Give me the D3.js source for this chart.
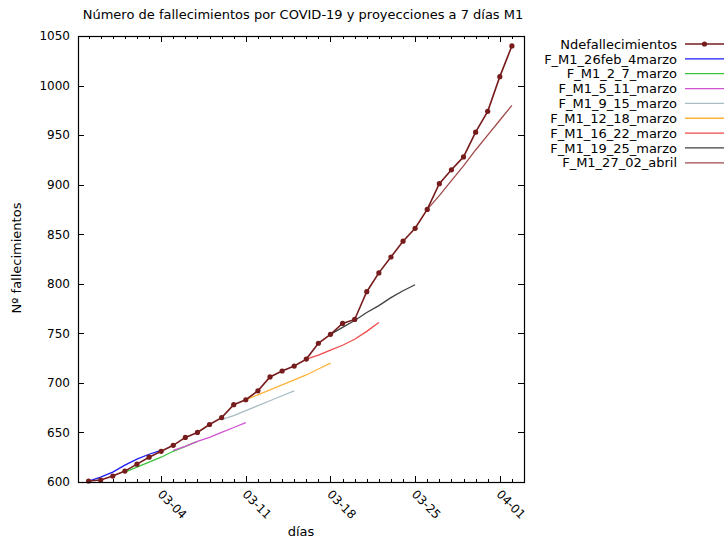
<!DOCTYPE html>
<html>
<head>
<meta charset="utf-8">
<script src="https://cdn.jsdelivr.net/npm/d3@7"></script>
<style>
  body { margin: 0; background: #fff; }
  svg { display: block; }
  text { font-family: "DejaVu Sans", Verdana, sans-serif; font-size: 12px; fill: #000; }
  text.lbl { font-size: 13px; }
</style>
</head>
<body>
<div id="chart"></div>
<script>
// fechas (mes-día, 2020) y nº de fallecimientos acumulados
var fechas = ["02-27", "02-28", "02-29", "03-01", "03-02", "03-03", "03-04", "03-05", "03-06",
    "03-07", "03-08", "03-09", "03-10", "03-11", "03-12", "03-13", "03-14", "03-15", "03-16",
    "03-17", "03-18", "03-19", "03-20", "03-21", "03-22", "03-23", "03-24", "03-25", "03-26",
    "03-27", "03-28", "03-29", "03-30", "03-31", "04-01", "04-02"];
var fallecimientos = [601, 602, 606, 611, 618, 625, 631, 637, 645, 650, 658, 665, 678, 683,
    692, 706, 712, 717, 724, 740, 749, 760, 764, 792, 811, 827, 843, 856, 875, 901, 915, 928,
    953, 974, 1009, 1040];

// proyecciones a 7 días
var proyNombres = ["F_M1_26feb_4marzo", "F_M1_2_7_marzo", "F_M1_5_11_marzo", "F_M1_9_15_marzo",
    "F_M1_12_18_marzo", "F_M1_16_22_marzo", "F_M1_19_25_marzo", "F_M1_27_02_abril"];
var proyInicio = ["02-27", "03-01", "03-05", "03-09", "03-11", "03-16", "03-18", "03-26"];
var proyValores = [
    [601, 605, 610, 617, 623, 628, 632],
    [610, 615, 620, 625, 631, 636, 641],
    [632, 636, 641, 645, 650, 655, 660],
    [663, 667, 672, 677, 682, 687, 692],
    [683, 688, 693, 698, 703, 708, 714, 720],
    [724, 728, 733, 738, 744, 752, 761],
    [749, 756, 763, 771, 778, 786, 793, 799],
    [875, 889, 904, 919, 935, 950, 965, 980]
];
var proyColores = ["#1c1cf4", "#3cc43c", "#d054d0", "#a9bcc4", "#ffb338", "#f04a4a", "#404040", "#a04a4a"];
var colorDatos = "#761c1c";

var yTicks = [600, 650, 700, 750, 800, 850, 900, 950, 1000, 1050];

var width = 724, height = 538;
var plotLeft = 78, plotRight = 524, plotTop = 36, plotBottom = 482;

var parseFecha = function (s) { return d3.utcParse("%Y-%m-%d")("2020-" + s); };

var svg = d3.select("#chart").append("svg")
    .attr("width", width)
    .attr("height", height);

var x = d3.scaleUtc()
    .domain([d3.utcHour.offset(parseFecha("02-26"), 3.5), parseFecha("04-03")])
    .range([plotLeft, plotRight]);

var y = d3.scaleLinear()
    .domain([600, 1050])
    .range([plotBottom, plotTop]);

var dayTicks = d3.utcDay.range(parseFecha("02-27"), parseFecha("04-04"));
var weekTicks = ["03-04", "03-11", "03-18", "03-25", "04-01"].map(parseFecha);

// ejes (ticks hacia dentro, espejo arriba/derecha)
var axisG = svg.append("g");

function drawXTicks(yPos, dir) {
    axisG.selectAll(null)
        .data(dayTicks)
        .enter().append("line")
        .attr("x1", function (d) { return Math.round(x(d)) + 0.5; })
        .attr("x2", function (d) { return Math.round(x(d)) + 0.5; })
        .attr("y1", yPos)
        .attr("y2", yPos + dir * 3)
        .attr("stroke", "#000");
    axisG.selectAll(null)
        .data(weekTicks)
        .enter().append("line")
        .attr("x1", function (d) { return Math.round(x(d)) + 0.5; })
        .attr("x2", function (d) { return Math.round(x(d)) + 0.5; })
        .attr("y1", yPos)
        .attr("y2", yPos + dir * 6)
        .attr("stroke", "#000");
}
drawXTicks(plotBottom, -1);
drawXTicks(plotTop, 1);

yTicks.forEach(function (v) {
    var yy = Math.round(y(v)) + 0.5;
    axisG.append("line").attr("x1", plotLeft).attr("x2", plotLeft + 6).attr("y1", yy).attr("y2", yy).attr("stroke", "#000");
    axisG.append("line").attr("x1", plotRight).attr("x2", plotRight - 6).attr("y1", yy).attr("y2", yy).attr("stroke", "#000");
    axisG.append("text")
        .attr("x", 70)
        .attr("y", y(v))
        .attr("dy", "0.36em")
        .attr("text-anchor", "end")
        .text(v);
});

var fmt = d3.utcFormat("%m-%d");
weekTicks.forEach(function (d) {
    axisG.append("text")
        .attr("transform", "translate(" + (x(d) - 1) + ",492) rotate(45)")
        .attr("dy", "0.36em")
        .text(fmt(d));
});

// líneas
var line = d3.line()
    .x(function (d) { return x(d.fecha); })
    .y(function (d) { return y(d.valor); });

var plotG = svg.append("g");

proyValores.forEach(function (vals, i) {
    var start = parseFecha(proyInicio[i]);
    var pts = vals.map(function (v, k) {
        return { fecha: d3.utcDay.offset(start, k), valor: v };
    });
    plotG.append("path")
        .datum(pts)
        .attr("fill", "none")
        .attr("stroke", proyColores[i])
        .attr("stroke-width", 1.3)
        .attr("d", line);
});

var datos = fechas.map(function (f, i) {
    return { fecha: parseFecha(f), valor: fallecimientos[i] };
});

plotG.append("path")
    .datum(datos)
    .attr("fill", "none")
    .attr("stroke", colorDatos)
    .attr("stroke-width", 1.6)
    .attr("d", line);

plotG.selectAll("circle")
    .data(datos)
    .enter().append("circle")
    .attr("cx", function (d) { return x(d.fecha); })
    .attr("cy", function (d) { return y(d.valor); })
    .attr("r", 2.6)
    .attr("fill", colorDatos);

// marco
svg.append("rect")
    .attr("x", plotLeft + 0.5)
    .attr("y", plotTop + 0.5)
    .attr("width", plotRight - plotLeft)
    .attr("height", plotBottom - plotTop)
    .attr("fill", "none")
    .attr("stroke", "#000")
    .attr("stroke-width", 1.2);

// textos
svg.append("text")
    .attr("class", "lbl")
    .attr("x", 303)
    .attr("y", 19)
    .attr("text-anchor", "middle")
    .text("Número de fallecimientos por COVID-19 y proyecciones a 7 días M1");

svg.append("text")
    .attr("class", "lbl")
    .attr("transform", "translate(21,258) rotate(-90)")
    .attr("text-anchor", "middle")
    .text("Nº fallecimientos");

svg.append("text")
    .attr("class", "lbl")
    .attr("x", 301)
    .attr("y", 536)
    .attr("text-anchor", "middle")
    .text("días");

// leyenda
var legendNames = ["Ndefallecimientos"].concat(proyNombres);
var legendColors = [colorDatos].concat(proyColores);
var legend = svg.append("g");
legendNames.forEach(function (n, i) {
    var ly = 44 + i * 14.85;
    legend.append("text")
        .attr("class", "lbl")
        .attr("x", 677)
        .attr("y", ly)
        .attr("dy", "0.36em")
        .attr("text-anchor", "end")
        .text(n);
    legend.append("line")
        .attr("x1", 685)
        .attr("x2", 724)
        .attr("y1", ly)
        .attr("y2", ly)
        .attr("stroke", legendColors[i])
        .attr("stroke-width", i === 0 ? 1.6 : 1.3);
    if (i === 0) {
        legend.append("circle")
            .attr("cx", 704.5)
            .attr("cy", ly)
            .attr("r", 2.6)
            .attr("fill", colorDatos);
    }
});
</script>
</body>
</html>
